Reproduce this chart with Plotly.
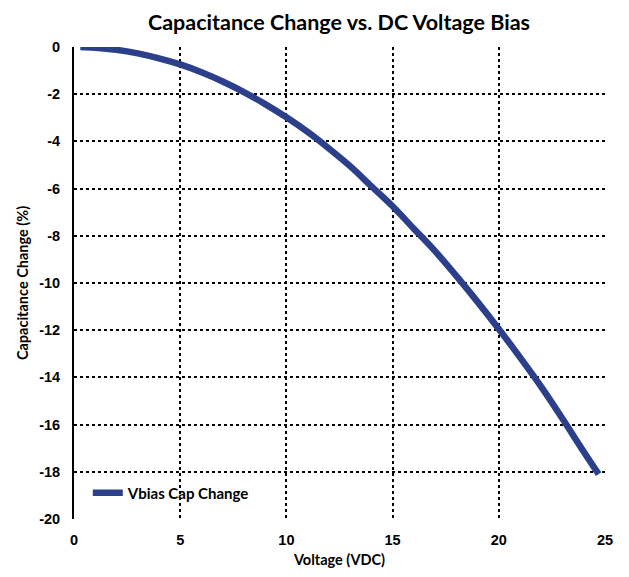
import plotly.graph_objects as go

voltage = [0.3, 1, 2, 3, 4, 5, 6, 7, 8, 9, 10, 11, 12, 13, 14, 15, 16, 17, 18, 19, 20, 21, 22, 23, 24, 24.7]
cap_change = [0.0, -0.03, -0.12, -0.27, -0.48, -0.74, -1.07, -1.46, -1.91, -2.42, -2.98, -3.6, -4.3, -5.05,
              -5.9, -6.75, -7.7, -8.65, -9.7, -10.8, -11.95, -13.15, -14.4, -15.75, -17.15, -18.1]
x_ticks = [0, 5, 10, 15, 20, 25]
y_ticks = [0, -2, -4, -6, -8, -10, -12, -14, -16, -18, -20]
y_ticklabels = ["0", "-2", "-4", "-6", "-8", "-10", "-12", "-14", "-16", "-18", "-20"]

fig = go.Figure()
fig.add_trace(go.Scatter(x=voltage, y=cap_change, mode="lines", name="Vbias Cap Change",
                         line=dict(color="#2B3F8A", width=6.5, shape="spline")))

tickfont = dict(family="Liberation Sans, Arial", size=14.5, color="black", weight="bold")
titlefont = dict(family="Lato, Inter", size=14.5, color="black", weight="bold")
fig.update_layout(
    width=621, height=569,
    paper_bgcolor="white", plot_bgcolor="white",
    margin=dict(l=66, r=24, t=39, b=58, autoexpand=False),
    title=dict(text="Capacitance Change vs. DC Voltage Bias", x=0.533, xanchor="center", y=0.975, yanchor="middle",
               font=dict(family="Lato, Inter", size=21.5, color="black", weight="bold")),
    showlegend=True,
    legend=dict(x=0.026, y=0.055, xanchor="left", yanchor="middle", bgcolor="rgba(0,0,0,0)",
                font=dict(family="Lato, Inter", size=15, color="black", weight="bold")),
    xaxis=dict(range=[0, 25], tickvals=x_ticks, showgrid=True, gridcolor="black", griddash="dot", gridwidth=1.5,
               zeroline=False, showline=False, ticks="", tickfont=tickfont, automargin=False,
               ticklabelstandoff=10,
               title=dict(text="Voltage (VDC)", font=titlefont, standoff=8)),
    yaxis=dict(range=[-20, 0], tickvals=y_ticks, ticktext=y_ticklabels, showgrid=True, gridcolor="black",
               griddash="dot", gridwidth=1.5, automargin=False,
               zeroline=False, showline=True, linecolor="black", linewidth=2, ticks="", tickfont=tickfont,
               ticklabelstandoff=9,
               title=dict(text="Capacitance Change (%)", font=titlefont, standoff=7)),
)
fig.write_html("out.html")
